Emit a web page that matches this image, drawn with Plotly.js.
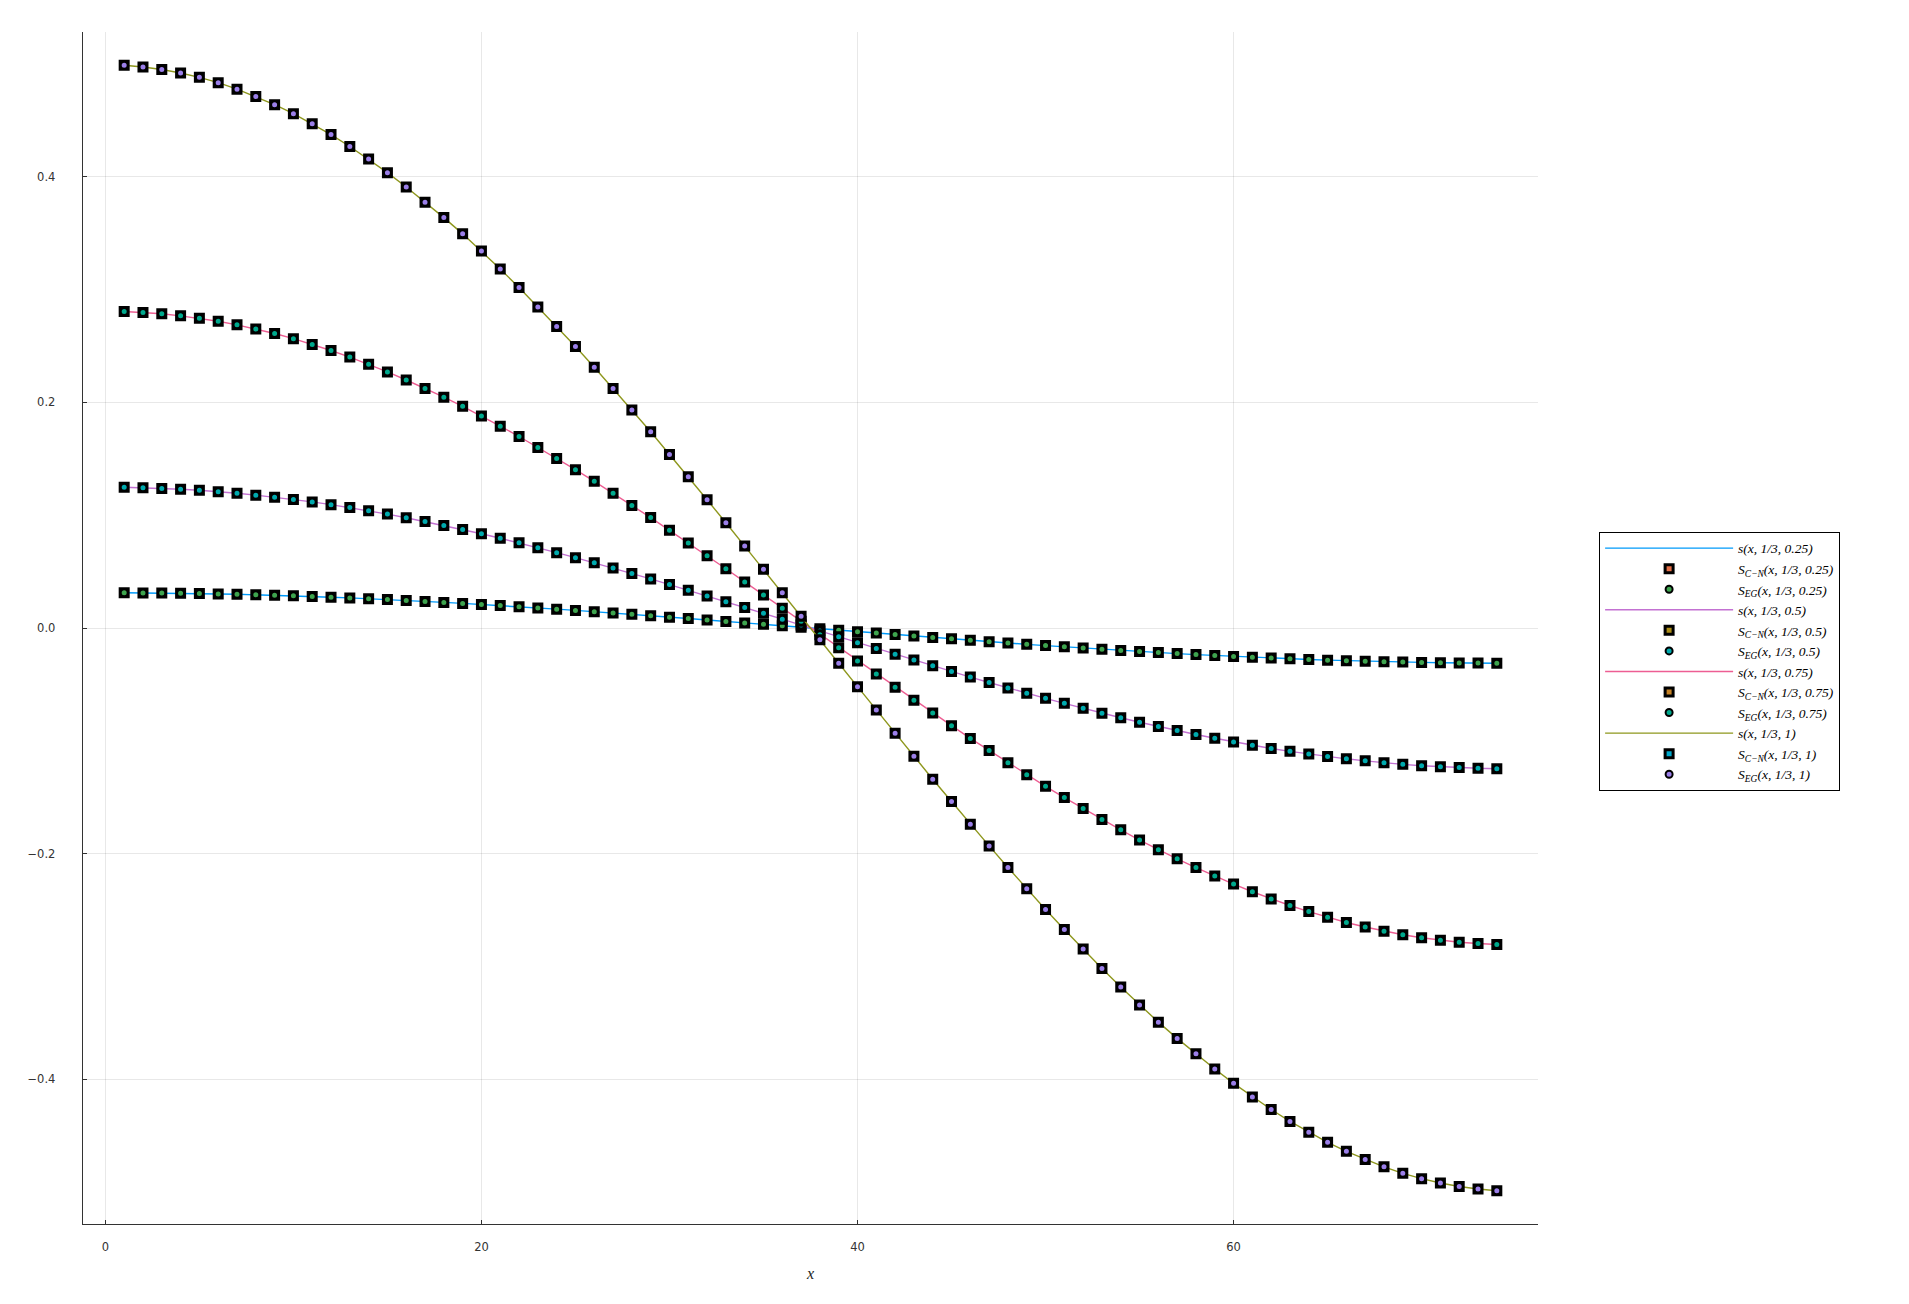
<!DOCTYPE html>
<html>
<head>
<meta charset="utf-8">
<script src="https://cdn.plot.ly/plotly-3.0.1.min.js"></script>
<style>
  html, body { margin: 0; padding: 0; background: #ffffff; }
  #chart { width: 1909px; height: 1304px; }
</style>
</head>
<body>
<div id="chart"></div>
<script>
// ---- data ----
const xs = [1,2,3,4,5,6,7,8,9,10,11,12,13,14,15,16,17,18,19,20,21,22,23,24,25,26,27,28,29,30,31,32,33,34,35,36,37,
            38,39,40,41,42,43,44,45,46,47,48,49,50,51,52,53,54,55,56,57,58,59,60,61,62,63,64,65,66,67,68,69,70,71,72,73,74];

// s(x, 1/3, 1)
const s_t100 = [0.4990,0.4975,0.4952,0.4921,0.4883,0.4836,0.4778,0.4713,0.4641,0.4561,0.4471,0.4375,0.4270,0.4158,0.4038,0.3910,0.3776,0.3639,0.3495,0.3342,0.3183,0.3019,0.2847,0.2673,0.2496,0.2313,0.2124,0.1932,0.1740,0.1539,0.1341,0.1137,0.0933,0.0727,0.0520,0.0313,0.0104,
  -0.0104,-0.0313,-0.0520,-0.0727,-0.0933,-0.1137,-0.1341,-0.1539,-0.1740,-0.1932,-0.2124,-0.2313,-0.2496,-0.2673,-0.2847,-0.3019,-0.3183,-0.3342,-0.3495,-0.3639,-0.3776,-0.3910,-0.4038,-0.4158,-0.4270,-0.4375,-0.4471,-0.4561,-0.4641,-0.4713,-0.4778,-0.4836,-0.4883,-0.4921,-0.4952,-0.4975,-0.4990];

// s(x, 1/3, 0.75)
const s_t075 = [0.2807,0.2798,0.2786,0.2768,0.2747,0.2720,0.2688,0.2651,0.2611,0.2566,0.2515,0.2461,0.2402,0.2339,0.2271,0.2199,0.2124,0.2047,0.1966,0.1880,0.1790,0.1698,0.1601,0.1504,0.1404,0.1301,0.1195,0.1087,0.0979,0.0866,0.0754,0.0640,0.0525,0.0409,0.0293,0.0176,0.0059,
  -0.0059,-0.0176,-0.0293,-0.0409,-0.0525,-0.0640,-0.0754,-0.0866,-0.0979,-0.1087,-0.1195,-0.1301,-0.1404,-0.1504,-0.1601,-0.1698,-0.1790,-0.1880,-0.1966,-0.2047,-0.2124,-0.2199,-0.2271,-0.2339,-0.2402,-0.2461,-0.2515,-0.2566,-0.2611,-0.2651,-0.2688,-0.2720,-0.2747,-0.2768,-0.2786,-0.2798,-0.2807];

// s(x, 1/3, 0.5)
const s_t050 = [0.1248,0.1244,0.1238,0.1230,0.1221,0.1209,0.1195,0.1178,0.1160,0.1140,0.1118,0.1094,0.1068,0.1040,0.1010,0.0978,0.0944,0.0910,0.0874,0.0836,0.0796,0.0755,0.0712,0.0668,0.0624,0.0578,0.0531,0.0483,0.0435,0.0385,0.0335,0.0284,0.0233,0.0182,0.0130,0.0078,0.0026,
  -0.0026,-0.0078,-0.0130,-0.0182,-0.0233,-0.0284,-0.0335,-0.0385,-0.0435,-0.0483,-0.0531,-0.0578,-0.0624,-0.0668,-0.0712,-0.0755,-0.0796,-0.0836,-0.0874,-0.0910,-0.0944,-0.0978,-0.1010,-0.1040,-0.1068,-0.1094,-0.1118,-0.1140,-0.1160,-0.1178,-0.1195,-0.1209,-0.1221,-0.1230,-0.1238,-0.1244,-0.1248];

// s(x, 1/3, 0.25)
const s_t025 = [0.0312,0.0311,0.0310,0.0308,0.0305,0.0302,0.0299,0.0295,0.0290,0.0285,0.0279,0.0273,0.0267,0.0260,0.0252,0.0244,0.0236,0.0227,0.0218,0.0209,0.0199,0.0189,0.0178,0.0167,0.0156,0.0145,0.0133,0.0121,0.0109,0.0096,0.0084,0.0071,0.0058,0.0045,0.0033,0.0020,0.0007,
  -0.0007,-0.0020,-0.0033,-0.0045,-0.0058,-0.0071,-0.0084,-0.0096,-0.0109,-0.0121,-0.0133,-0.0145,-0.0156,-0.0167,-0.0178,-0.0189,-0.0199,-0.0209,-0.0218,-0.0227,-0.0236,-0.0244,-0.0252,-0.0260,-0.0267,-0.0273,-0.0279,-0.0285,-0.0290,-0.0295,-0.0299,-0.0302,-0.0305,-0.0308,-0.0310,-0.0311,-0.0312];

const tLabels = ["0.25", "0.5", "0.75", "1"];
const seriesValues = [s_t025, s_t050, s_t075, s_t100];

// ---- styles ----
const lineColors   = ["#009AFA", "#C371D2", "#ED5E93", "#8E971D"];
const squareColors = ["#E36F47", "#AC8E18", "#C68225", "#00A9CD"];
const circleColors = ["#3EA44E", "#00AAAE", "#00A98D", "#9B7FE9"];

const traces = [];
seriesValues.forEach((ys, i) => {
  const t = tLabels[i];
  traces.push({
    type: "scatter", mode: "lines", x: xs, y: ys,
    name: "s(x, 1/3, " + t + ")",
    line: { color: lineColors[i], width: 1.4 }
  });
  traces.push({
    type: "scatter", mode: "markers", x: xs, y: ys,
    name: "S<sub>C−N</sub>(x, 1/3, " + t + ")",
    marker: { symbol: "square", size: 8, color: squareColors[i], line: { color: "#000000", width: 3 } }
  });
  traces.push({
    type: "scatter", mode: "markers", x: xs, y: ys,
    name: "S<sub>EG</sub>(x, 1/3, " + t + ")",
    marker: { symbol: "circle", size: 7, color: circleColors[i], line: { color: "#000000", width: 2 } }
  });
});

const axisCommon = {
  showgrid: true,
  gridcolor: "rgba(0,0,0,0.09)",
  gridwidth: 1,
  zeroline: false,
  showline: true,
  linecolor: "rgba(0,0,0,0.8)",
  linewidth: 1.3,
  mirror: false,
  ticks: "inside",
  ticklen: 4,
  tickwidth: 1,
  tickcolor: "rgba(0,0,0,0.8)",
  tickfont: { family: "DejaVu Sans, sans-serif", size: 11.5, color: "#333333" }
};

const layout = {
  width: 1909,
  height: 1304,
  paper_bgcolor: "#ffffff",
  plot_bgcolor: "#ffffff",
  margin: { l: 83, r: 371, t: 32, b: 80 },
  showlegend: true,
  xaxis: Object.assign({}, axisCommon, {
    range: [-1.19, 76.19],
    tickmode: "linear", tick0: 0, dtick: 20,
    ticklabelstandoff: 12,
    title: { text: "x", font: { family: "Liberation Serif, serif", size: 16, color: "#222222", style: "italic" }, standoff: 14 }
  }),
  yaxis: Object.assign({}, axisCommon, {
    range: [-0.5285, 0.5285],
    tickmode: "linear", tick0: 0, dtick: 0.2,
    tickformat: ".1f",
    ticklabelstandoff: 24
  }),
  legend: {
    x: 1.042, xanchor: "left",
    y: 0.472, yanchor: "middle",
    bgcolor: "#ffffff",
    bordercolor: "#000000",
    borderwidth: 1,
    itemwidth: 128,
    tracegroupgap: 0,
    font: { family: "Liberation Serif, serif", size: 13.5, color: "#000000", style: "italic" }
  }
};

Plotly.newPlot("chart", traces, layout, { displayModeBar: false, staticPlot: true });
</script>
</body>
</html>
